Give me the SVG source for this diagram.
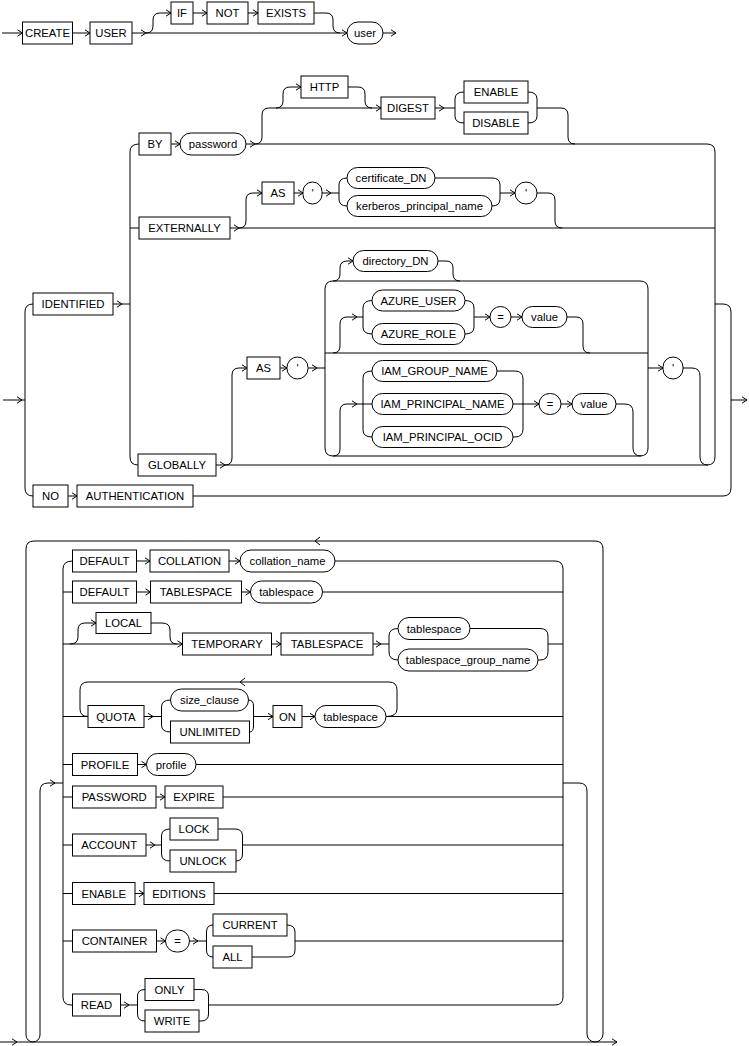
<svg xmlns="http://www.w3.org/2000/svg" width="749" height="1046" viewBox="0 0 749 1046">
<style>
.b{fill:#fff;stroke:#000;stroke-width:1}
.l{font-family:"Liberation Sans",Arial,sans-serif;font-size:11.3px;text-anchor:middle;fill:#000}
#connectors path{fill:none;stroke:#000;stroke-width:1}
#connectors path.a{marker-end:url(#ah)}
</style>
<defs>
<marker id="ah" viewBox="0 0 6 8" refX="5.5" refY="4" markerWidth="6" markerHeight="8" markerUnits="userSpaceOnUse" orient="auto"><path d="M0.5,0.8 L5.5,4 L0.5,7.2" fill="none" stroke="#000" stroke-width="1"/></marker>
</defs>
<rect width="749" height="1046" fill="#fff"/>
<g id="connectors">
<!-- section 1 -->
<path class="a" d="M2,33 L22.5,33"/>
<path class="a" d="M72.5,33 L90,33"/>
<path class="a" d="M132,33 L146,33"/>
<path class="a" d="M146,33 L347,33"/>
<path class="a" d="M146,33 Q153,33 153,26 L153,20 Q153,13 160,13 L171,13"/>
<path class="a" d="M193,13 L207,13"/>
<path class="a" d="M248,13 L258,13"/>
<path d="M314,13 L326,13 Q333,13 333,20 L333,26 Q333,33 340,33"/>
<path class="a" d="M383,33 L396,33"/>
<!-- section 2 -->
<path class="a" d="M3,400 L22,400"/>
<path d="M22,400 L25,400"/>
<path d="M33,304 Q25,304 25,312 L25,488 Q25,496 33,496"/>
<path class="a" d="M113,304 L122,304"/>
<path d="M122,304 L130,304"/>
<path d="M139,144 Q130,144 130,152 L130,457 Q130,465 138,465"/>
<path d="M130,228 L139,228"/>
<path class="a" d="M171,144 L180,144"/>
<path class="a" d="M246,144 L255,144"/>
<path d="M255,144 L707,144 Q715,144 715,152 L715,457 Q715,465 707,465 L225,465"/>
<path class="a" d="M216,465 L225,465"/>
<path class="a" d="M230,228 L239,228"/>
<path d="M239,228 L715,228"/>
<path d="M715,304 L723,304 Q731,304 731,312 L731,488 Q731,496 723,496 L193,496"/>
<path class="a" d="M731,400 L747,400"/>
<path class="a" d="M68,496 L77,496"/>
<path class="a" d="M255,144 Q262,144 262,137 L262,115 Q262,108 269,108 L381,108"/>
<path class="a" d="M276,108 Q283,108 283,101 L283,94 Q283,87 290,87 L301,87"/>
<path d="M348,87 L358,87 Q365,87 365,94 L365,101 Q365,108 372,108"/>
<path class="a" d="M435,108 L444,108"/>
<path d="M444,108 L455,108"/>
<path d="M464,92 Q455,92 455,99 L455,116 Q455,123 464,123"/>
<path d="M528,92 Q537,92 537,99 L537,116 Q537,123 528,123"/>
<path d="M537,108 L561,108 Q568,108 568,115 L568,137 Q568,144 575,144"/>
<path class="a" d="M239,228 Q246,228 246,221 L246,200 Q246,193 253,193 L262,193"/>
<path class="a" d="M294,193 L303,193"/>
<path class="a" d="M322,193 L331,193"/>
<path d="M331,193 L339,193"/>
<path d="M347,178 Q339,178 339,185 L339,199 Q339,206 347,206"/>
<path d="M435,178 L492,178 Q500,178 500,185 L500,199 Q500,206 492,206"/>
<path class="a" d="M500,193 L515,193"/>
<path d="M537,193 L548,193 Q555,193 555,200 L555,221 Q555,228 562,228"/>
<path class="a" d="M225,465 Q232,465 232,458 L232,375 Q232,368 239,368 L247,368"/>
<path class="a" d="M280,368 L287,368"/>
<path class="a" d="M308,368 L317,368"/>
<path d="M317,368 L325,368"/>
<path d="M333,281 L640,281 Q648,281 648,289 L648,448 Q648,456 640,456 L333,456 Q325,456 325,448 L325,289 Q325,281 333,281 Z"/>
<path d="M325,353 L648,353"/>
<path class="a" d="M648,368 L663,368"/>
<path d="M683,368 L692,368 Q700,368 700,376 L700,457 Q700,465 708,465"/>
<path class="a" d="M333,281 Q340,281 340,274 L340,268 Q340,261 347,261 L353,261"/>
<path d="M438,261 L446,261 Q453,261 453,268 L453,274 Q453,281 460,281"/>
<path class="a" d="M333,353 Q340,353 340,346 L340,324 Q340,317 347,317 L357,317"/>
<path d="M357,317 L363,317"/>
<path d="M372,300.5 Q363,300.5 363,308 L363,327 Q363,334 372,334"/>
<path d="M465,300.5 Q474,300.5 474,308 L474,327 Q474,334 465,334"/>
<path class="a" d="M474,317 L490,317"/>
<path class="a" d="M511,317 L522,317"/>
<path d="M567,317 L576,317 Q583,317 583,324 L583,346 Q583,353 590,353"/>
<path class="a" d="M333,456 Q340,456 340,449 L340,411 Q340,404 347,404 L357,404"/>
<path d="M357,404 L372,404"/>
<path d="M372,371 Q363,371 363,378 L363,430 Q363,437 372,437"/>
<path d="M497,371 L515,371 Q523,371 523,379 L523,429 Q523,437 515,437 L513,437"/>
<path class="a" d="M513,404 L539,404"/>
<path class="a" d="M561,404 L572,404"/>
<path d="M616,404 L625,404 Q633,404 633,412 L633,448 Q633,456 641,456"/>
<!-- section 3 -->
<path class="a" d="M0,1042 L17,1042"/>
<path class="a" d="M17,1042 L617,1042"/>
<path d="M26,1035 L26,549 Q26,541 34,541 L595,541 Q603,541 603,549 L603,1034 A8,8 0 0 1 587,1034 L587,791 Q587,783 579,783 L563,783"/>
<path d="M26,1035 A7,7 0 0 0 40,1035 L40,791 Q40,783 48,783"/>
<path class="a" d="M48,783 L55,783"/>
<path d="M55,783 L63,783"/>
<path d="M320,537 L315,541 L320,545"/>
<path d="M72.5,561 Q63,561 63,569 L63,997 Q63,1005 71,1005 L72.5,1005"/>
<path d="M335,561 L555,561 Q563,561 563,569 L563,997 Q563,1005 555,1005 L208.5,1005"/>
<path class="a" d="M136.5,561 L150,561"/>
<path class="a" d="M229,561 L240,561"/>
<path d="M63,592 L72.5,592"/>
<path class="a" d="M136.5,592 L150.5,592"/>
<path class="a" d="M241.5,592 L250.5,592"/>
<path d="M322.5,592 L563,592"/>
<path class="a" d="M63,644 L182.5,644"/>
<path class="a" d="M70,644 Q78,644 78,637 L78,630 Q78,623 85,623 L96,623"/>
<path d="M151,623 L162,623 Q170,623 170,630 L170,637 Q170,644 177,644"/>
<path class="a" d="M271.5,644 L281,644"/>
<path class="a" d="M373,644 L381,644"/>
<path d="M381,644 L389,644"/>
<path d="M398,628.5 Q389,628.5 389,636 L389,652 Q389,660 398,660"/>
<path d="M470,628.5 L540,628.5 Q548,628.5 548,636 L548,652 Q548,660 540,660 L538,660"/>
<path d="M548,644 L563,644"/>
<path d="M63,716.5 L88,716.5"/>
<path d="M386,716.5 L563,716.5"/>
<path d="M386,716.5 Q397,716.5 397,709 L397,690 Q397,682 389,682 L88,682 Q80,682 80,690 L80,709 Q80,716.5 88,716.5"/>
<path d="M245,678 L240,682 L245,686"/>
<path class="a" d="M144,716.5 L153,716.5"/>
<path d="M153,716.5 L161.5,716.5"/>
<path d="M170.5,700 Q161.5,700 161.5,707 L161.5,725 Q161.5,732 170.5,732"/>
<path d="M248.5,700 Q253.5,700 253.5,706 L253.5,726 Q253.5,732 249.5,732"/>
<path class="a" d="M253.5,716.5 L273,716.5"/>
<path class="a" d="M302,716.5 L315,716.5"/>
<path d="M63,764.5 L72.5,764.5"/>
<path class="a" d="M137.5,764.5 L146.5,764.5"/>
<path d="M196,764.5 L563,764.5"/>
<path d="M63,797 L72.5,797"/>
<path class="a" d="M156,797 L165,797"/>
<path d="M223,797 L563,797"/>
<path d="M63,845 L72.5,845"/>
<path class="a" d="M146,845 L155,845"/>
<path d="M155,845 L161.5,845"/>
<path d="M170,829 Q161.5,829 161.5,836 L161.5,854 Q161.5,861 170,861"/>
<path d="M218,829 L235,829 Q242.5,829 242.5,836 L242.5,854 Q242.5,861 236,861"/>
<path d="M242.5,845 L563,845"/>
<path d="M63,893.5 L72.5,893.5"/>
<path class="a" d="M135,893.5 L144,893.5"/>
<path d="M214,893.5 L563,893.5"/>
<path d="M63,941 L72.5,941"/>
<path class="a" d="M156.5,941 L165.5,941"/>
<path class="a" d="M189.5,941 L198,941"/>
<path d="M198,941 L206.5,941"/>
<path d="M213,925 Q206.5,925 206.5,932 L206.5,950 Q206.5,957 213,957"/>
<path d="M287,925 Q295,925 295,932 L295,950 Q295,957 288,957 L252,957"/>
<path d="M295,941 L563,941"/>
<path class="a" d="M120.5,1005 L129,1005"/>
<path d="M129,1005 L137.5,1005"/>
<path d="M145,989.5 Q137.5,989.5 137.5,996 L137.5,1014 Q137.5,1021 145,1021"/>
<path d="M194,989.5 L201,989.5 Q208.5,989.5 208.5,996 L208.5,1014 Q208.5,1021 201,1021 L199,1021"/>
</g>
<!-- section 1 nodes -->
<g id="n-create"><rect class="b" x="22.5" y="22" width="50" height="22"/><text class="l" x="47.5" y="37">CREATE</text></g>
<g id="n-user-kw"><rect class="b" x="90" y="22" width="42" height="22"/><text class="l" x="111" y="37">USER</text></g>
<g id="n-if"><rect class="b" x="171" y="2" width="22" height="22"/><text class="l" x="182" y="17">IF</text></g>
<g id="n-not"><rect class="b" x="207" y="2" width="41" height="22"/><text class="l" x="227.5" y="17">NOT</text></g>
<g id="n-exists"><rect class="b" x="258" y="2" width="56" height="22"/><text class="l" x="286" y="17">EXISTS</text></g>
<g id="n-user"><rect class="b" x="347" y="22" width="36" height="22" rx="11"/><text class="l" x="365" y="37">user</text></g>
<!-- section 2 nodes -->
<g id="n-identified"><rect class="b" x="33" y="293" width="80" height="22"/><text class="l" x="73" y="308">IDENTIFIED</text></g>
<g id="n-no"><rect class="b" x="33" y="485" width="35" height="22"/><text class="l" x="50.5" y="500">NO</text></g>
<g id="n-authentication"><rect class="b" x="77" y="485" width="116" height="22"/><text class="l" x="135" y="500">AUTHENTICATION</text></g>
<g id="n-by"><rect class="b" x="139" y="133" width="32" height="22"/><text class="l" x="155" y="148">BY</text></g>
<g id="n-password"><rect class="b" x="180" y="133" width="66" height="22" rx="11"/><text class="l" x="213" y="148">password</text></g>
<g id="n-http"><rect class="b" x="301" y="76" width="47" height="22"/><text class="l" x="324.5" y="91">HTTP</text></g>
<g id="n-digest"><rect class="b" x="381" y="97" width="54" height="22"/><text class="l" x="408" y="112">DIGEST</text></g>
<g id="n-enable"><rect class="b" x="464" y="81" width="64" height="22"/><text class="l" x="496" y="96">ENABLE</text></g>
<g id="n-disable"><rect class="b" x="464" y="112" width="64" height="22"/><text class="l" x="496" y="127">DISABLE</text></g>
<g id="n-externally"><rect class="b" x="139" y="217" width="91" height="22"/><text class="l" x="184.5" y="232">EXTERNALLY</text></g>
<g id="n-as1"><rect class="b" x="262" y="182" width="32" height="22"/><text class="l" x="278" y="197">AS</text></g>
<g id="n-q1"><rect class="b" x="303" y="182" width="19" height="22" rx="9.5"/><text class="l" x="312.5" y="197">'</text></g>
<g id="n-certificate"><rect class="b" x="347" y="167.5" width="88" height="21" rx="10.5"/><text class="l" x="391" y="182">certificate_DN</text></g>
<g id="n-kerberos"><rect class="b" x="347" y="195.5" width="145" height="21" rx="10.5"/><text class="l" x="419.5" y="210">kerberos_principal_name</text></g>
<g id="n-q2"><rect class="b" x="515" y="182" width="22" height="22" rx="11"/><text class="l" x="526" y="197">'</text></g>
<g id="n-globally"><rect class="b" x="138" y="454" width="78" height="22"/><text class="l" x="177" y="469">GLOBALLY</text></g>
<g id="n-as2"><rect class="b" x="247" y="357" width="33" height="22"/><text class="l" x="263.5" y="372">AS</text></g>
<g id="n-q3"><rect class="b" x="287" y="357" width="21" height="22" rx="10.5"/><text class="l" x="297.5" y="372">'</text></g>
<g id="n-directory"><rect class="b" x="353" y="250.5" width="85" height="21" rx="10.5"/><text class="l" x="395.5" y="265">directory_DN</text></g>
<g id="n-azure-user"><rect class="b" x="372" y="290" width="93" height="21" rx="10.5"/><text class="l" x="418.5" y="304.5">AZURE_USER</text></g>
<g id="n-azure-role"><rect class="b" x="372" y="323.5" width="93" height="21" rx="10.5"/><text class="l" x="418.5" y="338">AZURE_ROLE</text></g>
<g id="n-eq1"><rect class="b" x="490" y="306.5" width="21" height="21" rx="10.5"/><text class="l" x="500.5" y="321">=</text></g>
<g id="n-value1"><rect class="b" x="522" y="306.5" width="45" height="21" rx="10.5"/><text class="l" x="544.5" y="321">value</text></g>
<g id="n-iam-group"><rect class="b" x="372" y="360.5" width="125" height="21" rx="10.5"/><text class="l" x="434.5" y="375">IAM_GROUP_NAME</text></g>
<g id="n-iam-pname"><rect class="b" x="372" y="393.5" width="141" height="21" rx="10.5"/><text class="l" x="442.5" y="408">IAM_PRINCIPAL_NAME</text></g>
<g id="n-iam-ocid"><rect class="b" x="372" y="426.5" width="141" height="21" rx="10.5"/><text class="l" x="442.5" y="441">IAM_PRINCIPAL_OCID</text></g>
<g id="n-eq2"><rect class="b" x="539" y="393.5" width="22" height="21" rx="10.5"/><text class="l" x="550" y="408">=</text></g>
<g id="n-value2"><rect class="b" x="572" y="393.5" width="44" height="21" rx="10.5"/><text class="l" x="594" y="408">value</text></g>
<g id="n-q4"><rect class="b" x="663" y="357" width="20" height="22" rx="10"/><text class="l" x="673" y="372">'</text></g>
<!-- section 3 nodes -->
<g id="n-default1"><rect class="b" x="72.5" y="550" width="64" height="22"/><text class="l" x="104.5" y="565">DEFAULT</text></g>
<g id="n-collation"><rect class="b" x="150" y="550" width="79" height="22"/><text class="l" x="189.5" y="565">COLLATION</text></g>
<g id="n-collation-name"><rect class="b" x="240" y="550" width="95" height="22" rx="11"/><text class="l" x="287.5" y="565">collation_name</text></g>
<g id="n-default2"><rect class="b" x="72.5" y="581" width="64" height="22"/><text class="l" x="104.5" y="596">DEFAULT</text></g>
<g id="n-tablespace-kw1"><rect class="b" x="150.5" y="581" width="91" height="22"/><text class="l" x="196" y="596">TABLESPACE</text></g>
<g id="n-tablespace1"><rect class="b" x="250.5" y="581" width="72" height="22" rx="11"/><text class="l" x="286.5" y="596">tablespace</text></g>
<g id="n-local"><rect class="b" x="96" y="612.5" width="55" height="21"/><text class="l" x="123.5" y="627">LOCAL</text></g>
<g id="n-temporary"><rect class="b" x="182.5" y="633" width="89" height="22"/><text class="l" x="227" y="648">TEMPORARY</text></g>
<g id="n-tablespace-kw2"><rect class="b" x="281" y="633" width="92" height="22"/><text class="l" x="327" y="648">TABLESPACE</text></g>
<g id="n-tablespace2"><rect class="b" x="398" y="617.5" width="72" height="22" rx="11"/><text class="l" x="434" y="632.5">tablespace</text></g>
<g id="n-tsgroup"><rect class="b" x="398" y="649" width="140" height="22" rx="11"/><text class="l" x="468" y="664">tablespace_group_name</text></g>
<g id="n-quota"><rect class="b" x="88" y="705.5" width="56" height="22"/><text class="l" x="116" y="720.5">QUOTA</text></g>
<g id="n-size"><rect class="b" x="170.5" y="689" width="78" height="22" rx="11"/><text class="l" x="209.5" y="704">size_clause</text></g>
<g id="n-unlimited"><rect class="b" x="170.5" y="721" width="79" height="22"/><text class="l" x="210" y="736">UNLIMITED</text></g>
<g id="n-on"><rect class="b" x="273" y="705.5" width="29" height="22"/><text class="l" x="287.5" y="720.5">ON</text></g>
<g id="n-tablespace3"><rect class="b" x="315" y="705.5" width="71" height="22" rx="11"/><text class="l" x="350.5" y="720.5">tablespace</text></g>
<g id="n-profile-kw"><rect class="b" x="72.5" y="753.5" width="65" height="22"/><text class="l" x="105" y="768.5">PROFILE</text></g>
<g id="n-profile"><rect class="b" x="146.5" y="753.5" width="49.5" height="22" rx="11"/><text class="l" x="171.2" y="768.5">profile</text></g>
<g id="n-password-kw"><rect class="b" x="72.5" y="786" width="83.5" height="22"/><text class="l" x="114.2" y="801">PASSWORD</text></g>
<g id="n-expire"><rect class="b" x="165" y="786" width="58" height="22"/><text class="l" x="194" y="801">EXPIRE</text></g>
<g id="n-account"><rect class="b" x="72.5" y="834" width="73.5" height="22"/><text class="l" x="109.2" y="849">ACCOUNT</text></g>
<g id="n-lock"><rect class="b" x="170" y="818" width="48" height="22"/><text class="l" x="194" y="833">LOCK</text></g>
<g id="n-unlock"><rect class="b" x="170" y="850" width="66" height="22"/><text class="l" x="203" y="865">UNLOCK</text></g>
<g id="n-enable2"><rect class="b" x="72.5" y="882.5" width="62.5" height="22"/><text class="l" x="103.7" y="897.5">ENABLE</text></g>
<g id="n-editions"><rect class="b" x="144" y="882.5" width="70" height="22"/><text class="l" x="179" y="897.5">EDITIONS</text></g>
<g id="n-container"><rect class="b" x="72.5" y="930" width="84" height="22"/><text class="l" x="114.5" y="945">CONTAINER</text></g>
<g id="n-eq3"><rect class="b" x="165.5" y="930" width="24" height="22" rx="11"/><text class="l" x="177.5" y="945">=</text></g>
<g id="n-current"><rect class="b" x="213" y="914" width="74" height="22"/><text class="l" x="250" y="929">CURRENT</text></g>
<g id="n-all"><rect class="b" x="213" y="946" width="39" height="22"/><text class="l" x="232.5" y="961">ALL</text></g>
<g id="n-read"><rect class="b" x="72.5" y="994" width="48" height="22"/><text class="l" x="96.5" y="1009">READ</text></g>
<g id="n-only"><rect class="b" x="145" y="978.5" width="49" height="22"/><text class="l" x="169.5" y="993.5">ONLY</text></g>
<g id="n-write"><rect class="b" x="145" y="1010" width="54" height="22"/><text class="l" x="172" y="1025">WRITE</text></g>
</svg>
